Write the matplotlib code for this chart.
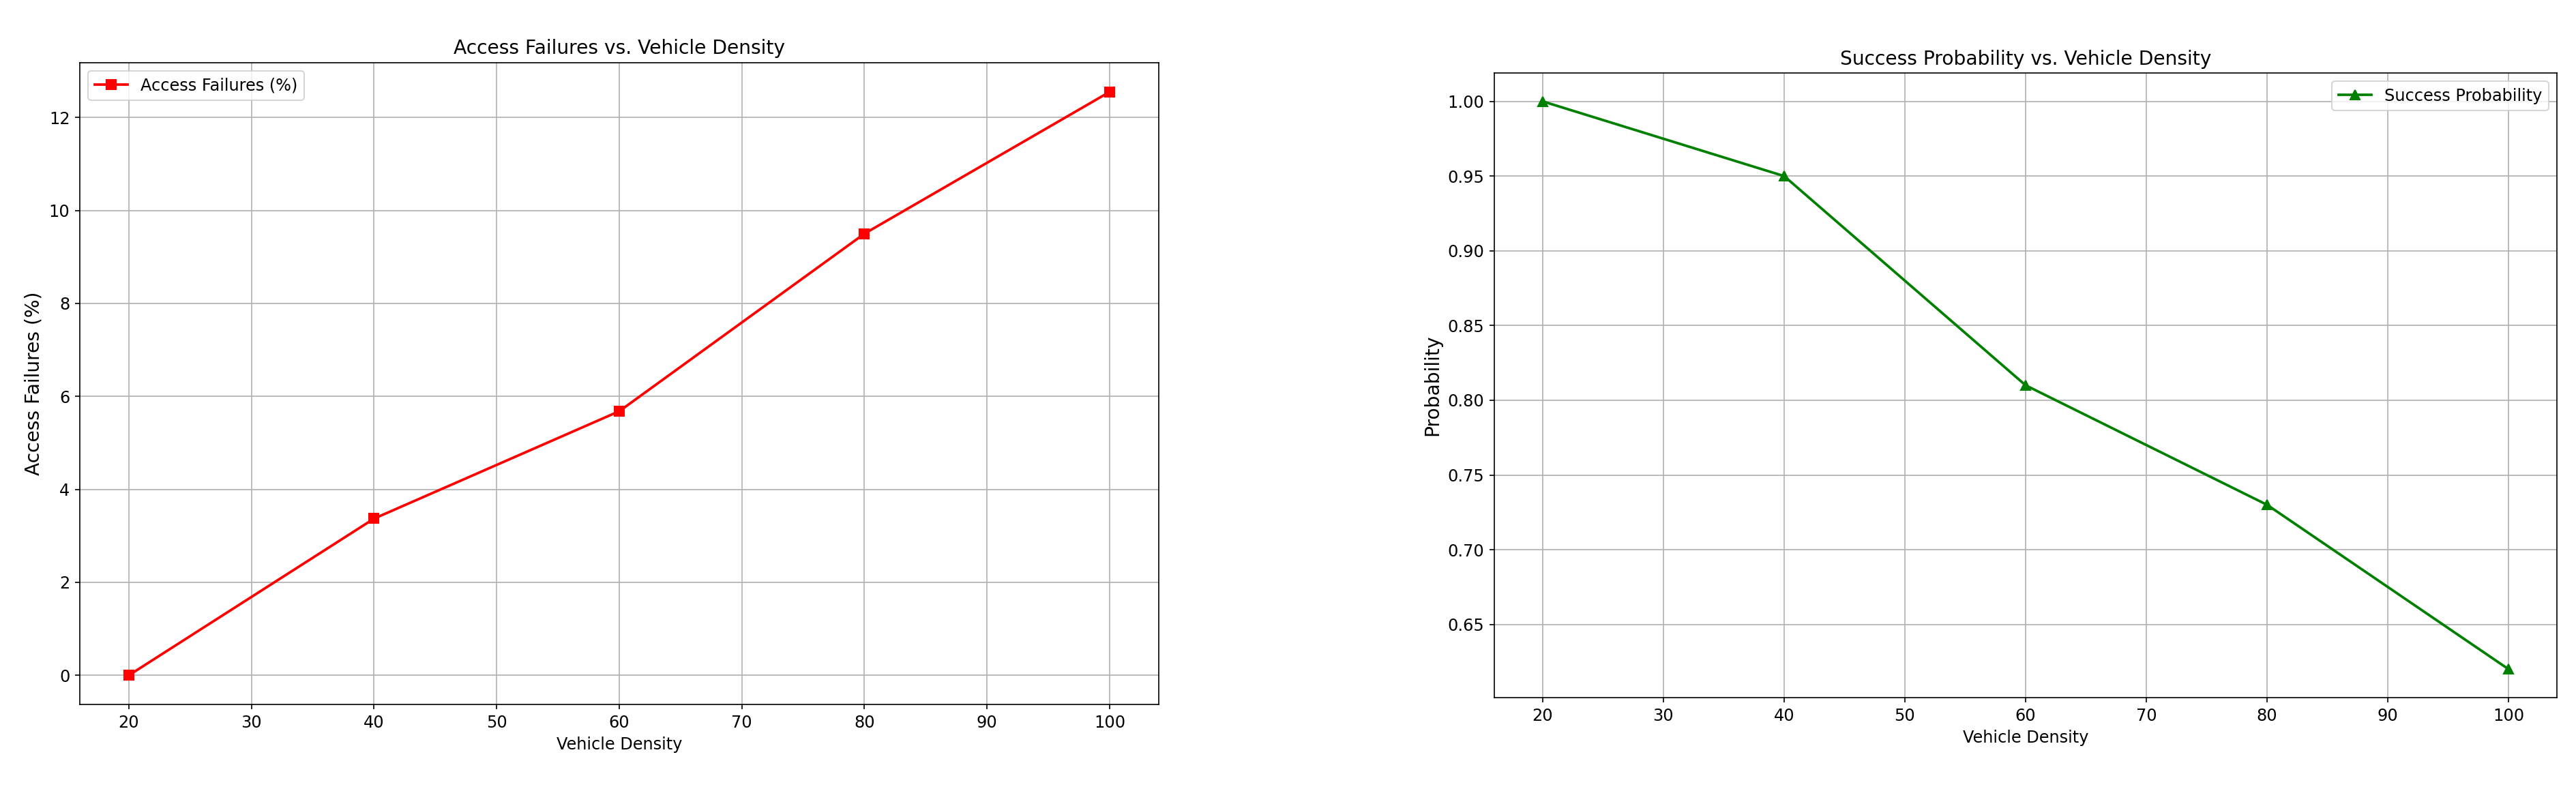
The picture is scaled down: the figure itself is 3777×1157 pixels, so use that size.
import matplotlib
matplotlib.use("Agg")
import matplotlib.pyplot as plt

vehicle_density = [20, 40, 60, 80, 100]
access_failures = [0.0, 3.37, 5.68, 9.5, 12.55]
success_prob = [1.00, 0.95, 0.81, 0.73, 0.62]

fig = plt.figure(figsize=(3777 / 150, 1157 / 150), dpi=150)

ax1 = fig.add_axes([0.031, 0.1072, 0.4188, 0.8133])
ax1.plot(vehicle_density, access_failures, color='red', marker='s',
         markersize=7, linewidth=1.8, label='Access Failures (%)')
ax1.set_title('Access Failures vs. Vehicle Density', fontsize=13.5)
ax1.set_xlabel('Vehicle Density', fontsize=11.5)
ax1.set_ylabel('Access Failures (%)', fontsize=13.5)
ax1.tick_params(labelsize=11.5)
ax1.grid(True)
ax1.legend(loc='upper left', fontsize=11.5)

ax2 = fig.add_axes([0.5801, 0.1158, 0.4125, 0.7917])
ax2.plot(vehicle_density, success_prob, color='green', marker='^',
         markersize=7, linewidth=1.8, label='Success Probability')
ax2.set_title('Success Probability vs. Vehicle Density', fontsize=13.5)
ax2.set_xlabel('Vehicle Density', fontsize=11.5)
ax2.set_ylabel('Probability', fontsize=13.5)
ax2.tick_params(labelsize=11.5)
ax2.grid(True)
ax2.legend(loc='upper right', fontsize=11.5)

fig.savefig('out.png', dpi=150)
